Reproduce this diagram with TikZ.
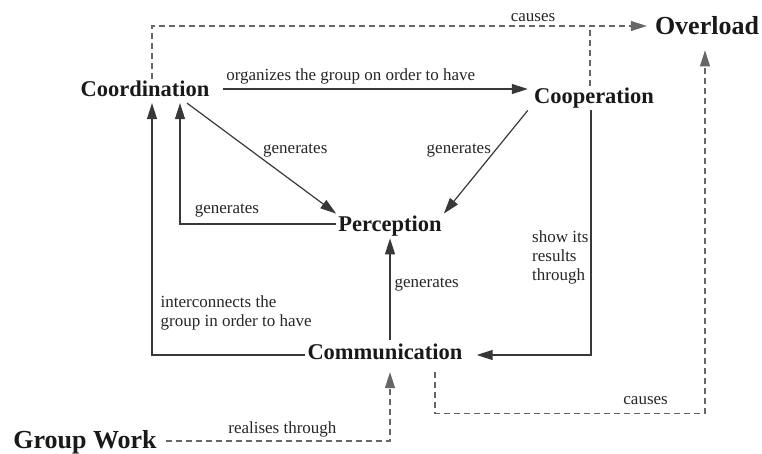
\documentclass[tikz,border=0pt]{standalone}
\usepackage{fontspec}
\setmainfont{Liberation Serif}
\usetikzlibrary{arrows.meta}
\begin{document}
\begin{tikzpicture}[x=1pt,y=-1pt,
  concept/.style={font=\fontsize{22.5}{24}\selectfont\bfseries, inner sep=2pt, text=black!90},
  bigconcept/.style={concept, font=\fontsize{26}{28}\selectfont\bfseries},
  lbl/.style={font=\fontsize{17}{19}\selectfont, text=black!85, inner sep=1pt},
  tip/.style={-{Triangle[length=16pt,width=10pt]}},
  link/.style={draw=black!78, line width=1.2pt, tip},
  dline/.style={draw=black!60, line width=1.1pt, dash pattern=on 6pt off 4pt},
  dlink/.style={dline, tip},
]
\useasboundingbox (0,0) rectangle (762,453);

% concepts
\node[concept] (coord) at (145,89) {Coordination};
\node[concept] (coop) at (594,98) {Cooperation};
\node[bigconcept] (over) at (707,26) {Overload};
\node[concept] (perc) at (390,226) {Perception};
\node[concept] (comm) at (385,352) {Communication};
\node[bigconcept] (gw) at (85,442) {Group Work};

% solid relations
\draw[link] ([xshift=11pt]coord.east) --
  node[lbl, pos=0.42, above=3pt] (l1) {organizes the group on order to have}
  ([xshift=-4pt]coop.west |- coord.east);

\draw[link] ([xshift=42pt,yshift=-4pt]coord.south) --
  node[lbl, pos=0.5, anchor=south west] (l2) {generates}
  (perc.north west);

\draw[link] ([yshift=2pt]perc.west) -|
  node[lbl, pos=0.35, above=5pt] (l3) {generates}
  ([xshift=35pt,yshift=-4pt]coord.south);

\draw[link] ([xshift=-4pt]coop.south west) --
  node[lbl, pos=0.385, anchor=east, xshift=-3pt] (l4) {generates}
  (perc.north east);

\draw[link] ([xshift=-3pt]coop.south) |-
  node[lbl, pos=0.3, left=1pt, align=left] (l5) {show its\\results\\through}
  ([xshift=12pt,yshift=-3pt]comm.east);

\draw[link] ([yshift=-3pt]comm.west) -|
  node[lbl, pos=0.477, anchor=south west, yshift=23pt, align=left] (l6) {interconnects the\\group in order to have}
  ([xshift=7pt,yshift=-4pt]coord.south);

\draw[link] ([yshift=2pt]comm.north -| perc.south) --
  node[lbl, pos=0.55, right=3pt] (l7) {generates}
  (perc.south);

% dashed relations
\draw[dlink] ([xshift=7pt,yshift=1pt]gw.east) -|
  node[lbl, pos=0.26, above=2pt] (l8) {realises through}
  ([yshift=-10pt]comm.south -| perc.south);

\draw[dlink] ([xshift=50pt,yshift=-10pt]comm.south) -- ++(0,41) -|
  node[lbl, pos=0.39, above=7pt] (l9) {causes}
  ([xshift=-2pt,yshift=-13pt]over.south);

\draw[dlink] ([xshift=7pt]coord.north) |-
  node[lbl, pos=0.885, above=3pt] (l10) {causes}
  ([xshift=-6pt]over.west);

\draw[dline] ([xshift=-4pt]coop.north) -- ([xshift=-4pt]coop.north |- over.west);
\end{tikzpicture}
\end{document}
